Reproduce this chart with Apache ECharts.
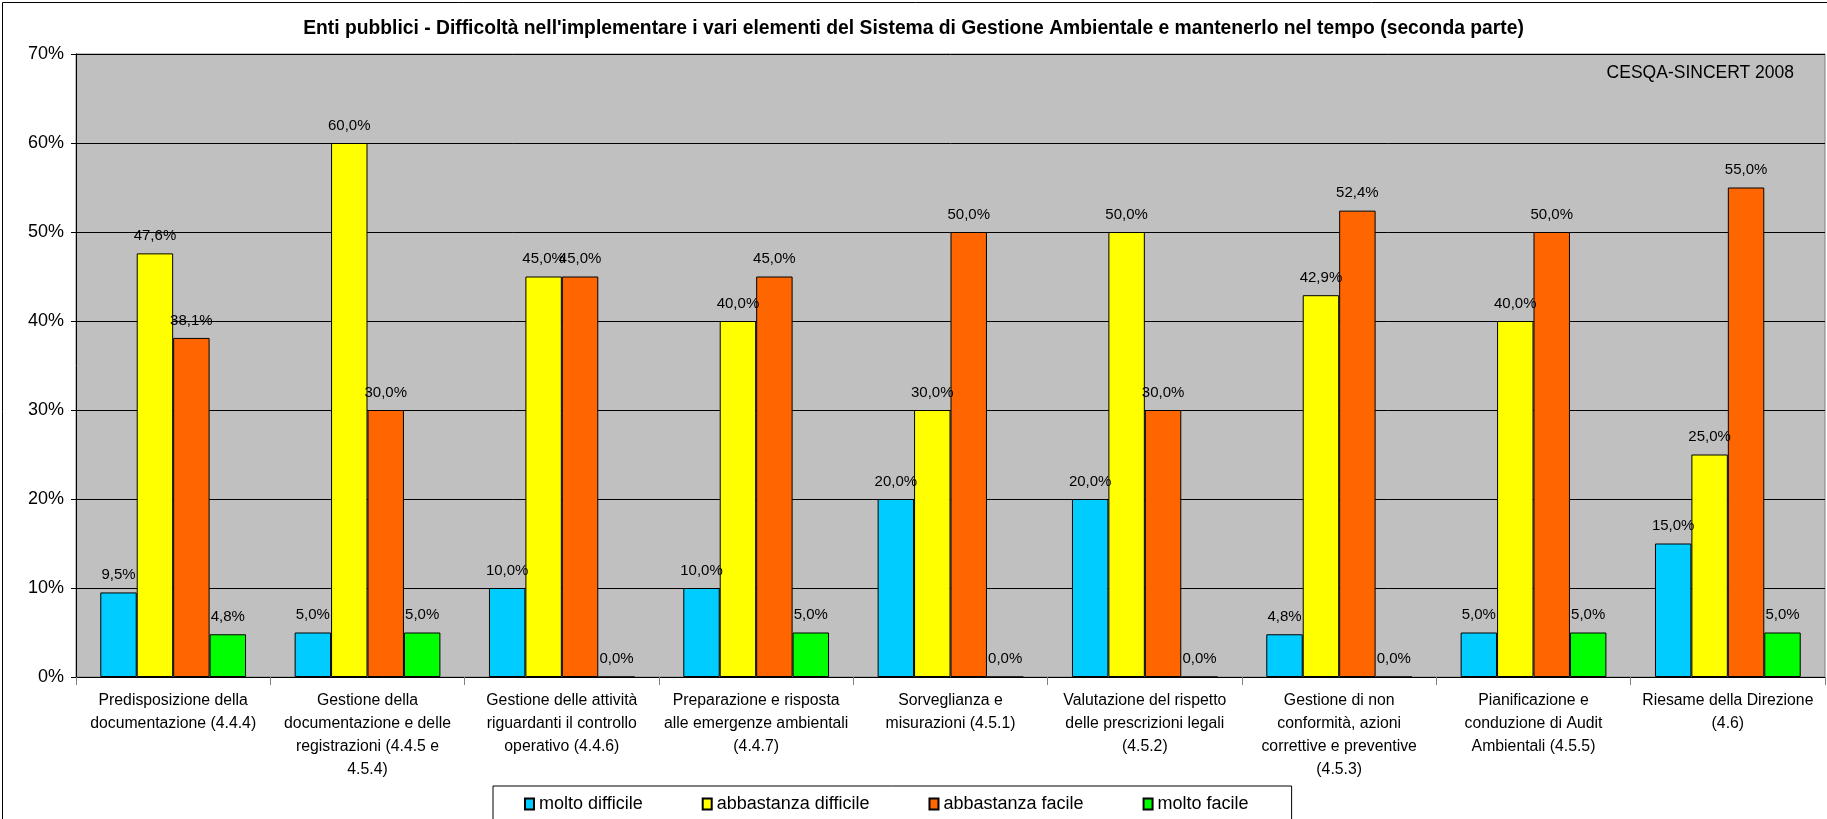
<!DOCTYPE html>
<html>
<head>
<meta charset="utf-8">
<script src="https://cdn.jsdelivr.net/npm/echarts@6/dist/echarts.min.js"></script>
<style>
html,body{margin:0;padding:0;background:#fff;}
#c{width:1827px;height:819px;}
</style>
</head>
<body>
<div id="c"></div>
<script>
const titleText = "Enti pubblici - Difficoltà nell'implementare i vari elementi del Sistema di Gestione Ambientale e mantenerlo nel tempo (seconda parte)";
const sourceText = "CESQA-SINCERT 2008";
const categories = [
  "Predisposizione della\ndocumentazione (4.4.4)",
  "Gestione della\ndocumentazione e delle\nregistrazioni (4.4.5 e\n4.5.4)",
  "Gestione delle attività\nriguardanti il controllo\noperativo (4.4.6)",
  "Preparazione e risposta\nalle emergenze ambientali\n(4.4.7)",
  "Sorveglianza e\nmisurazioni (4.5.1)",
  "Valutazione del rispetto\ndelle prescrizioni legali\n(4.5.2)",
  "Gestione di non\nconformità, azioni\ncorrettive e preventive\n(4.5.3)",
  "Pianificazione e\nconduzione di Audit\nAmbientali (4.5.5)",
  "Riesame della Direzione\n(4.6)"
];
const seriesNames = ["molto difficile", "abbastanza difficile", "abbastanza facile", "molto facile"];
const moltoDifficile = [9.5, 5.0, 10.0, 10.0, 20.0, 20.0, 4.8, 5.0, 15.0];
const abbastanzaDifficile = [47.6, 60.0, 45.0, 40.0, 30.0, 50.0, 42.9, 40.0, 25.0];
const abbastanzaFacile = [38.1, 30.0, 45.0, 45.0, 50.0, 30.0, 52.4, 50.0, 55.0];
const moltoFacile = [4.8, 5.0, 0.0, 5.0, 0.0, 0.0, 0.0, 5.0, 5.0];
const yMin = 0, yMax = 70, yInterval = 10;

const colors = ["#00CCFF", "#FFFF00", "#FF6600", "#00FF00"];
const FONT = "'Liberation Sans', Arial, sans-serif";
const allData = [moltoDifficile, abbastanzaDifficile, abbastanzaFacile, moltoFacile];

const chart = echarts.init(document.getElementById('c'));
chart.setOption({
  animation: false,
  textStyle: { fontFamily: FONT, color: '#000' },
  title: {
    text: titleText,
    left: 'center',
    top: 14,
    textStyle: { fontFamily: FONT, fontSize: 19.3, fontWeight: 'bold', color: '#000' }
  },
  graphic: [
    { type: 'rect', left: 0, top: 0, shape: { width: 1826, height: 818 },
      style: { fill: 'none', stroke: '#000', lineWidth: 1 }, z: -10, silent: true },
    { type: 'text', right: 33, top: 64, z: 10,
      style: { text: sourceText, font: "17.5px 'Liberation Sans', Arial, sans-serif", fill: '#000' } }
  ],
  legend: {
    data: seriesNames,
    left: 493,
    top: 786,
    orient: 'horizontal',
    itemWidth: 9,
    itemHeight: 11,
    itemGap: 59,
    padding: [9, 43, 9, 31],
    backgroundColor: '#fff',
    borderColor: '#000',
    borderWidth: 1,
    borderRadius: 0,
    icon: 'rect',
    textStyle: { fontFamily: FONT, fontSize: 18, color: '#000' }
  },
  grid: {
    left: 76, right: 2, top: 54, bottom: 142,
    show: true, backgroundColor: '#C0C0C0', borderColor: '#808080', borderWidth: 1,
    containLabel: false
  },
  xAxis: {
    type: 'category',
    data: categories,
    axisLine: { show: true, lineStyle: { color: '#000', width: 1 } },
    axisTick: { show: true, length: 8, alignWithLabel: false, lineStyle: { color: '#808080' } },
    axisLabel: { interval: 0, margin: 12, fontFamily: FONT, fontSize: 15.8, lineHeight: 23, color: '#000', align: 'center' }
  },
  yAxis: {
    type: 'value',
    min: yMin, max: yMax, interval: yInterval,
    axisLine: { show: true, lineStyle: { color: '#000', width: 1 } },
    axisTick: { show: true, length: 5, lineStyle: { color: '#000' } },
    splitLine: { show: true, lineStyle: { color: '#000', width: 1 } },
    axisLabel: { margin: 12, fontFamily: FONT, fontSize: 18, color: '#000', formatter: v => v + '%' }
  },
  series: seriesNames.map((name, i) => ({
    name: name,
    type: 'bar',
    data: allData[i],
    barGap: '0%',
    barCategoryGap: '25%',
    itemStyle: { color: colors[i], borderColor: '#000', borderWidth: 1 },
    label: {
      show: true, position: 'top', distance: 10,
      fontFamily: FONT, fontSize: 15, color: '#000',
      formatter: p => p.value.toFixed(1).replace('.', ',') + '%'
    },
    labelLayout: { hideOverlap: false }
  }))
});
</script>
</body>
</html>
